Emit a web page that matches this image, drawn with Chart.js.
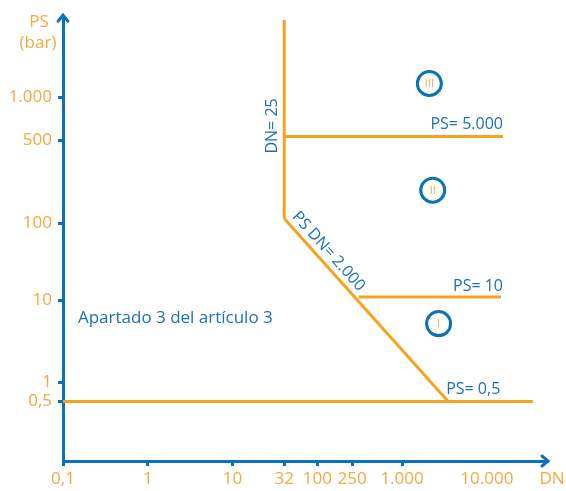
<!DOCTYPE html>
<html>
<head>
<meta charset="utf-8">
<script src="https://cdn.jsdelivr.net/npm/chart.js@4/dist/chart.umd.min.js"></script>
<style>
  body { margin: 0; background: #fff; }
</style>
</head>
<body>
<canvas id="chart" width="566" height="491"></canvas>
<script>
// tick values and their printed labels
var xTickValues = [0.1, 1, 10, 32, 100, 250, 1000, 10000];
var xTickLabels = ["0,1", "1", "10", "32", "100", "250", "1.000", "10.000"];
var yTickValues = [0.5, 1, 10, 100, 500, 1000];
var yTickLabels = ["0,5", "1", "10", "100", "500", "1.000"];

// the drawing is only roughly logarithmic: slot of each tick, in decades
var xTickSlots = [0, 1, 2, 2.61, 3, 3.41, 4, 5];
var yTickSlots = [-0.24, 0, 1.04, 2.01, 3.06, 3.6];

// boundary lines (DN, PS)
var dn25DN = [32, 32];
var dn25PS = [9500, 110];
var ps5000DN = [32, 15500];
var ps5000PS = [530, 530];
var psdnDN = [32, 3500];
var psdnPS = [110, 0.5];
var ps10DN = [300, 14700];
var ps10PS = [11, 11];
var ps05DN = [0.1, 35000];
var ps05PS = [0.5, 0.5];

// category markers
var catNames = ["I", "II", "III"];
var catDN = [2700, 2300, 2100];
var catPS = [5.2, 190, 1500];

var ORANGE = "#F7A11E";
var ORANGE_TXT = "#F8A640";
var BLUE = "#0B72BA";
var BLUE_TXT = "#1C70B6";

// value -> slot (piecewise log between ticks, 1 slot per decade outside)
function toSlot(v, vals, slots) {
  var lv = Math.log10(v);
  var n = vals.length;
  if (lv <= Math.log10(vals[0])) return slots[0] + (lv - Math.log10(vals[0]));
  if (lv >= Math.log10(vals[n - 1])) return slots[n - 1] + (lv - Math.log10(vals[n - 1]));
  for (var i = 0; i < n - 1; i++) {
    var a = Math.log10(vals[i]), b = Math.log10(vals[i + 1]);
    if (lv <= b) return slots[i] + (lv - a) / (b - a) * (slots[i + 1] - slots[i]);
  }
}
function sx(v) { return toSlot(v, xTickValues, xTickSlots); }
function sy(v) { return toSlot(v, yTickValues, yTickSlots); }

function pts(dn, ps) {
  var out = [];
  for (var i = 0; i < dn.length; i++) out.push({ x: sx(dn[i]), y: sy(ps[i]) });
  return out;
}

function boundary(dn, ps) {
  return {
    data: pts(dn, ps),
    showLine: true,
    borderColor: ORANGE,
    borderWidth: 3,
    pointRadius: 0,
    fill: false
  };
}

var catData = pts(catDN, catPS);

// texts, arrows, numerals
var extrasPlugin = {
  id: "extras",
  afterDatasetsDraw: function (chart) {
    var ctx = chart.ctx;
    var xs = chart.scales.x, ys = chart.scales.y;
    var px = function (v) { return xs.getPixelForValue(sx(v)); };
    var py = function (v) { return ys.getPixelForValue(sy(v)); };
    var area = chart.chartArea;
    ctx.save();

    // arrows at axis ends
    ctx.strokeStyle = BLUE;
    ctx.lineWidth = 3;
    ctx.lineCap = "round";
    ctx.beginPath();
    ctx.moveTo(area.left - 5, area.top + 5);
    ctx.lineTo(area.left, area.top - 1);
    ctx.lineTo(area.left + 5, area.top + 5);
    ctx.stroke();
    ctx.beginPath();
    ctx.moveTo(area.right - 5, area.bottom - 5);
    ctx.lineTo(area.right + 1, area.bottom);
    ctx.lineTo(area.right - 5, area.bottom + 5);
    ctx.stroke();

    // axis titles
    ctx.fillStyle = ORANGE_TXT;
    ctx.font = "17px 'Open Sans'";
    ctx.textAlign = "center";
    ctx.textBaseline = "middle";
    ctx.fillText("PS", 39, 22);
    ctx.fillText("(bar)", 38, 43);
    ctx.fillText("DN", 552, 479);

    // boundary labels
    ctx.fillStyle = BLUE_TXT;
    ctx.font = "16px 'Open Sans'";
    ctx.textAlign = "right";
    ctx.fillText("PS= 5.000", px(ps5000DN[1]), py(ps5000PS[1]) - 12);
    ctx.fillText("PS= 10", px(ps10DN[1]) + 2, py(ps10PS[1]) - 11);
    ctx.textAlign = "left";
    ctx.fillText("PS= 0,5", px(psdnDN[1]) - 2, py(ps05PS[0]) - 12);
    ctx.font = "17px 'Open Sans'";
    ctx.fillText("Apartado 3 del artículo 3", px(0.15), py(6));

    // DN= 25, rotated along the vertical line
    ctx.font = "16px 'Open Sans'";
    ctx.save();
    ctx.translate(px(dn25DN[0]) - 12, py(630));
    ctx.rotate(-Math.PI / 2);
    ctx.textAlign = "center";
    ctx.fillText("DN= 25", 0, 0);
    ctx.restore();

    // PS DN= 2.000, along the slope
    var x0 = px(psdnDN[0]), y0 = py(psdnPS[0]);
    var x1 = px(psdnDN[1]), y1 = py(psdnPS[1]);
    var len = Math.hypot(x1 - x0, y1 - y0);
    var ux = (x1 - x0) / len, uy = (y1 - y0) / len;
    var cx = x0 + ux * 54 + uy * 11, cy = y0 + uy * 54 - ux * 11;
    ctx.save();
    ctx.translate(cx, cy);
    ctx.rotate(Math.atan2(uy, ux));
    ctx.textAlign = "center";
    ctx.fillText("PS DN= 2.000", 0, 0);
    ctx.restore();

    // roman numerals inside circles
    var meta = chart.getDatasetMeta(5);
    ctx.fillStyle = ORANGE_TXT;
    ctx.font = "11px 'Open Sans'";
    ctx.textAlign = "center";
    meta.data.forEach(function (p, i) {
      ctx.fillText(catNames[i], p.x, p.y + 0.5);
    });
    ctx.restore();
  }
};

var ctx = document.getElementById("chart").getContext("2d");
var myChart = new Chart(ctx, {
  type: "scatter",
  data: {
    datasets: [
      boundary(dn25DN, dn25PS),
      boundary(ps5000DN, ps5000PS),
      boundary(psdnDN, psdnPS),
      boundary(ps10DN, ps10PS),
      boundary(ps05DN, ps05PS),
      {
        data: catData,
        pointRadius: 12,
        pointHoverRadius: 12,
        pointBorderWidth: 3,
        pointBorderColor: BLUE,
        pointBackgroundColor: "#fff"
      }
    ]
  },
  options: {
    responsive: false,
    animation: false,
    devicePixelRatio: 1,
    layout: { padding: { top: 12, right: 19, left: 0, bottom: 0 } },
    plugins: { legend: { display: false }, tooltip: { enabled: false } },
    scales: {
      x: {
        type: "linear",
        min: 0,
        max: 5.71,
        afterBuildTicks: function (s) {
          s.ticks = xTickSlots.map(function (v) { return { value: v }; });
        },
        afterFit: function (s) { s.height = 30; },
        ticks: {
          autoSkip: false,
          maxRotation: 0,
          padding: 3,
          color: ORANGE_TXT,
          font: { family: "'Open Sans'", size: 17 },
          callback: function (v, i) { return xTickLabels[i]; }
        },
        grid: {
          drawOnChartArea: false,
          tickLength: 5,
          lineWidth: 3,
          color: function (c) { return c.index === 7 ? "rgba(0,0,0,0)" : BLUE; }
        },
        border: { color: BLUE, width: 3 }
      },
      y: {
        type: "linear",
        min: -0.99,
        max: 4.625,
        afterBuildTicks: function (s) {
          s.ticks = yTickSlots.map(function (v) { return { value: v }; });
        },
        afterFit: function (s) { s.width = 63; },
        ticks: {
          autoSkip: false,
          padding: 6,
          color: ORANGE_TXT,
          font: { family: "'Open Sans'", size: 17 },
          callback: function (v, i) { return yTickLabels[i]; }
        },
        grid: {
          drawOnChartArea: false,
          tickLength: 5,
          lineWidth: 3,
          color: BLUE
        },
        border: { color: BLUE, width: 3 }
      }
    }
  },
  plugins: [extrasPlugin]
});
</script>
</body>
</html>
